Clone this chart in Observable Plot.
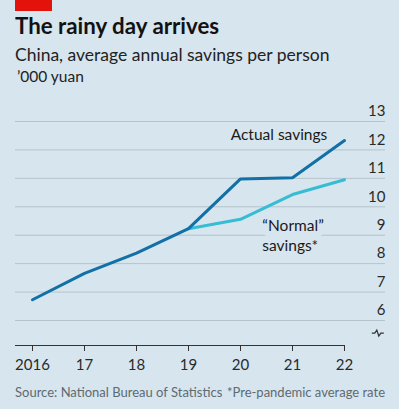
<!DOCTYPE html>
<html>
<head>
<meta charset="utf-8">
<script src="https://cdn.jsdelivr.net/npm/d3@7"></script>
<script src="https://cdn.jsdelivr.net/npm/@observablehq/plot@0.6"></script>
<style>
  html, body { margin: 0; padding: 0; }
  body { width: 399px; height: 409px; background: #d7e5ee; position: relative; overflow: hidden; font-family: Lato, "Open Sans", sans-serif; }
  .abs { position: absolute; white-space: nowrap; }
  #redbar { left: 15px; top: 0; width: 37px; height: 11px; background: #e3120b; }
  #title { left: 15px; top: 13px; font-size: 22.3px; font-weight: 700; color: #121212; line-height: 26px; }
  #subtitle { left: 15px; top: 44px; font-size: 17.5px; color: #222; line-height: 21px; }
  #unit { left: 17px; top: 67px; font-size: 15.5px; color: #222; line-height: 18px; }
  #chart { left: 0; top: 90px; }
  #source { left: 15px; top: 384px; font-size: 13px; color: #5d6a73; line-height: 16px; }
  #note { right: 14px; top: 384px; font-size: 13px; color: #5d6a73; line-height: 16px; }
</style>
</head>
<body>
<div id="redbar" class="abs"></div>
<div id="title" class="abs">The rainy day arrives</div>
<div id="subtitle" class="abs">China, average annual savings per person</div>
<div id="unit" class="abs">’000 yuan</div>
<div id="chart" class="abs"></div>
<div id="source" class="abs">Source: National Bureau of Statistics</div>
<div id="note" class="abs">*Pre-pandemic average rate</div>
<script>
// ---- data ----
const years = [2016, 2017, 2018, 2019, 2020, 2021, 2022];
const actualSavings = [6.73, 7.66, 8.37, 9.23, 10.98, 11.02, 12.33];
const normalYears = [2019, 2020, 2021, 2022];
const normalSavings = [9.23, 9.56, 10.43, 10.95];
const yTicks = [6, 7, 8, 9, 10, 11, 12, 13];
const xTickLabels = ["2016", "17", "18", "19", "20", "21", "22"];

const actual = years.map((y, i) => ({year: y, value: actualSavings[i]}));
const normal = normalYears.map((y, i) => ({year: y, value: normalSavings[i]}));

const bg = "#d7e5ee";
const yMin = 5.12, yMax = 13;
const xMin = 2016 - 17 / 52, xMax = 2022 + 41 / 52;

const plot = Plot.plot({
  width: 399,
  height: 290,
  marginLeft: 15,
  marginRight: 14,
  marginTop: 31,
  marginBottom: 35,
  style: {background: "transparent", fontFamily: "Lato, 'Open Sans', sans-serif", overflow: "visible"},
  x: {domain: [xMin, xMax], axis: null},
  y: {domain: [yMin, yMax], axis: null},
  marks: [
    Plot.ruleY(yTicks, {stroke: "#b4c3cc", strokeWidth: 1}),
    Plot.text(yTicks, {y: d => d, frameAnchor: "right", text: d => String(d), textAnchor: "end", dy: -10, fontSize: 15, fill: "#2a2a2a"}),
    Plot.ruleY([yMin], {x1: xMin, x2: 2022, stroke: "#333", strokeWidth: 1}),
    Plot.axisX(years, {label: null, tickFormat: (d) => xTickLabels[years.indexOf(d)], tickSize: 6, tickPadding: 8, fontSize: 15, stroke: "#333", fill: "#2a2a2a"}),
    Plot.text(["\u201cNormal\u201d\nsavings*"], {x: 2020.42, y: 9.03, text: d => d, textAnchor: "start", lineHeight: 1.3, fontSize: 15.5, fill: "#1a1a1a", stroke: bg, strokeWidth: 12, paintOrder: "stroke"}),
    Plot.text(["Actual savings"], {x: 2020.74, y: 12.54, text: d => d, textAnchor: "middle", fontSize: 15.5, fill: "#1a1a1a"}),
    Plot.line(normal, {x: "year", y: "value", stroke: "#36bcd3", strokeWidth: 3, strokeLinejoin: "miter"}),
    Plot.line(actual, {x: "year", y: "value", stroke: "#1170a6", strokeWidth: 3, strokeLinejoin: "miter"})
  ]
});

// axis break symbol
const sx = plot.scale("x"), sy = plot.scale("y");
const bx = sx.apply(2022.65), by = sy.apply(5.54);
const ns = "http://www.w3.org/2000/svg";
const p = document.createElementNS(ns, "path");
p.setAttribute("d", `M${bx - 6},${by}H${bx - 3}L${bx - 1},${by - 3}L${bx + 1},${by + 3}L${bx + 3},${by}H${bx + 6}`);
p.setAttribute("fill", "none");
p.setAttribute("stroke", "#333");
p.setAttribute("stroke-width", "1.2");
plot.appendChild(p);

document.getElementById("chart").appendChild(plot);
</script>
</body>
</html>
